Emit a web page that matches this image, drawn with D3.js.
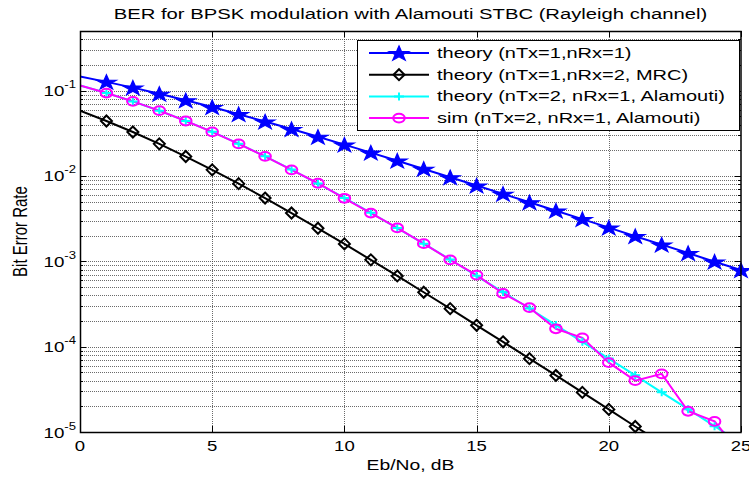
<!DOCTYPE html>
<html>
<head>
<meta charset="utf-8">
<script src="https://cdn.jsdelivr.net/npm/d3@7"></script>
<style>
body { margin: 0; background: #fff; }
text { font-family: "Liberation Sans", Arial, sans-serif; fill: #000; }
</style>
</head>
<body>
<script>
var width = 749;
var height = 477;
var margin = {top: 31, right: 8, bottom: 45, left: 80};
var w = width - margin.left - margin.right;
var h = height - margin.top - margin.bottom;
var sx = 1.35; // the picture is stretched sideways

// Eb/No in dB
var ebno = [0, 1, 2, 3, 4, 5, 6, 7, 8, 9, 10, 11, 12, 13, 14, 15, 16, 17, 18, 19, 20, 21, 22, 23, 24, 25];

var theory11 = [0.1464, 0.1267, 0.1085, 0.0919, 0.0771, 0.0642, 0.0530, 0.0435, 0.0355, 0.0288,
	0.0233, 0.0188, 0.0151, 0.0121, 0.00967, 0.00772, 0.00617, 0.00492, 0.00392, 0.00312,
	0.00248, 0.00197, 0.00157, 0.00125, 0.00099, 0.00079];

var theoryMrc = [0.0581, 0.0441, 0.0328, 0.0238, 0.0169, 0.0118, 0.00813, 0.00551, 0.00368, 0.00244,
	0.00160, 0.00104, 6.74e-4, 4.34e-4, 2.79e-4, 1.78e-4, 1.14e-4, 7.24e-5, 4.60e-5, 2.91e-5,
	1.84e-5, 1.16e-5, 7.4e-6, 4.7e-6, 2.9e-6, 1.9e-6];

var theoryAlamouti = [0.1151, 0.0939, 0.0748, 0.0582, 0.0442, 0.0329, 0.0239, 0.0170, 0.0119, 0.00816,
	0.00553, 0.00370, 0.00245, 0.00161, 0.00105, 6.77e-4, 4.36e-4, 2.80e-4, 1.79e-4, 1.14e-4,
	7.26e-5, 4.61e-5, 2.92e-5, 1.85e-5, 1.17e-5, 7.4e-6];

var simAlamouti = [0.1148, 0.0937, 0.0749, 0.0583, 0.0441, 0.0329, 0.0238, 0.0170, 0.0118, 0.00822,
	0.00548, 0.00368, 0.00246, 0.00161, 0.00104, 6.9e-4, 4.2e-4, 2.86e-4, 1.62e-4, 1.27e-4,
	6.5e-5, 4.0e-5, 4.8e-5, 1.75e-5, 1.33e-5, 5.5e-6];

var xTicks = [0, 5, 10, 15, 20, 25];
var yDecades = [-5, -4, -3, -2, -1];

var legendLabels = ["theory (nTx=1,nRx=1)", "theory (nTx=1,nRx=2, MRC)",
	"theory (nTx=2, nRx=1, Alamouti)", "sim (nTx=2, nRx=1, Alamouti)"];

var series = [
	{name: legendLabels[0], values: theory11, color: "#0000ff", marker: "star"},
	{name: legendLabels[1], values: theoryMrc, color: "#000000", marker: "diamond"},
	{name: legendLabels[2], values: theoryAlamouti, color: "#00ffff", marker: "plus"},
	{name: legendLabels[3], values: simAlamouti, color: "#ff00ff", marker: "circle"}
];

var svg = d3.select("body").append("svg")
	.attr("width", width)
	.attr("height", height)
	.append("g")
	.attr("transform", "translate(" + margin.left + "," + margin.top + ")");

var x = d3.scaleLinear()
	.domain([0, 25])
	.range([0, w]);

var y = d3.scaleLog()
	.domain([1e-5, 0.5])
	.range([h, 0]);

svg.append("defs").append("clipPath")
	.attr("id", "clip")
	.append("rect")
	.attr("width", w)
	.attr("height", h);

//grid lines, dotted like matlab
var yMinor = y.ticks().filter(function(d) { return d > 1e-5 * 1.01 && d < 0.5; });

svg.append("g").selectAll("line.ygrid")
	.data(yMinor)
	.enter().append("line")
	.attr("x1", 0).attr("x2", w)
	.attr("y1", function(d) { return Math.round(y(d)) + 0.5; })
	.attr("y2", function(d) { return Math.round(y(d)) + 0.5; })
	.style("stroke", "#3a3a3a")
	.style("stroke-width", 1)
	.style("stroke-dasharray", "1,1")
	.style("opacity", 0.75);

svg.append("g").selectAll("line.xgrid")
	.data(xTicks.filter(function(d) { return d > 0 && d < 25; }))
	.enter().append("line")
	.attr("y1", 0).attr("y2", h)
	.attr("x1", function(d) { return Math.round(x(d)) + 0.5; })
	.attr("x2", function(d) { return Math.round(x(d)) + 0.5; })
	.style("stroke", "#3a3a3a")
	.style("stroke-width", 1)
	.style("stroke-dasharray", "1,1")
	.style("opacity", 0.75);

//inward ticks on all four sides
var ticks = svg.append("g").style("stroke", "#000").style("stroke-width", 1);
xTicks.forEach(function(d) {
	var xx = Math.round(x(d)) + 0.5;
	ticks.append("line").attr("x1", xx).attr("x2", xx).attr("y1", h).attr("y2", h - 6);
	ticks.append("line").attr("x1", xx).attr("x2", xx).attr("y1", 0).attr("y2", 6);
});
y.ticks().forEach(function(d) {
	var yy = Math.round(y(d)) + 0.5;
	var e = Math.log10(d);
	var len = Math.abs(e - Math.round(e)) < 1e-6 ? 6 : 3;
	ticks.append("line").attr("x1", 0).attr("x2", len).attr("y1", yy).attr("y2", yy);
	ticks.append("line").attr("x1", w).attr("x2", w - len).attr("y1", yy).attr("y2", yy);
});

//series lines
var line = d3.line()
	.x(function(d, i) { return x(ebno[i]); })
	.y(function(d) { return y(d); });

var plot = svg.append("g").attr("clip-path", "url(#clip)");

function drawMarker(g, type, color) {
	if (type == "star") {
		g.append("path")
			.attr("d", d3.symbol(d3.symbolStar).size(68)())
			.attr("transform", "translate(0,0.8) scale(" + sx + ",1)")
			.style("fill", color)
			.style("stroke", color)
			.style("stroke-width", 1);
	} else if (type == "diamond") {
		g.append("path")
			.attr("d", "M0,-5.5L5.5,0L0,5.5L-5.5,0Z")
			.style("fill", "none")
			.style("stroke", color)
			.style("stroke-width", 2);
	} else if (type == "plus") {
		g.append("path")
			.attr("d", "M-5,0H5M0,-4V4")
			.style("fill", "none")
			.style("stroke", color)
			.style("stroke-width", 2);
	} else {
		g.append("ellipse")
			.attr("rx", 5.8)
			.attr("ry", 4.4)
			.style("fill", "none")
			.style("stroke", color)
			.style("stroke-width", 2);
	}
}

series.forEach(function(s) {
	plot.append("path")
		.datum(s.values)
		.attr("d", line)
		.style("fill", "none")
		.style("stroke", s.color)
		.style("stroke-width", 2);

	var pts = s.values.map(function(v, i) { return {x: ebno[i], v: v}; })
		.filter(function(p) { return p.x > 0 && p.v >= 1e-5; });

	svg.append("g").selectAll("g")
		.data(pts)
		.enter().append("g")
		.attr("transform", function(p) { return "translate(" + x(p.x) + "," + y(p.v) + ")"; })
		.each(function() { drawMarker(d3.select(this), s.marker, s.color); });
});

//axes box
svg.append("rect")
	.attr("x", 0.5).attr("y", 0.5)
	.attr("width", w - 0.5).attr("height", h)
	.style("fill", "none")
	.style("stroke", "#000")
	.style("stroke-width", 1.5);

//tick labels
svg.append("g").selectAll("text")
	.data(xTicks)
	.enter().append("text")
	.attr("transform", function(d) { return "translate(" + x(d) + "," + (h + 19) + ") scale(1.28,1)"; })
	.style("text-anchor", "middle")
	.style("font-size", "14.5px")
	.text(function(d) { return d; });

var yl = svg.append("g").selectAll("text")
	.data(yDecades)
	.enter().append("text")
	.attr("transform", function(d) { return "translate(-4," + (y(Math.pow(10, d)) + 5.5) + ") scale(1.25,1)"; })
	.style("text-anchor", "end")
	.style("font-size", "15px");
yl.append("tspan").text("10");
yl.append("tspan")
	.attr("dy", -8)
	.style("font-size", "10.5px")
	.text(function(d) { return d; });

//title and axis labels
svg.append("text")
	.attr("transform", "translate(" + (w / 2) + ",-12) scale(" + sx + ",1)")
	.style("text-anchor", "middle")
	.style("font-size", "15px")
	.text("BER for BPSK modulation with Alamouti STBC (Rayleigh channel)");

svg.append("text")
	.attr("transform", "translate(" + (w / 2) + "," + (h + 38) + ") scale(1.33,1)")
	.style("text-anchor", "middle")
	.style("font-size", "14.5px")
	.text("Eb/No, dB");

svg.append("text")
	.attr("transform", "translate(-53," + (h / 2) + ") scale(" + sx + ",1) rotate(-90)")
	.style("text-anchor", "middle")
	.style("font-size", "15px")
	.text("Bit Error Rate");

//legend
var legend = svg.append("g")
	.attr("transform", "translate(277,9)");

legend.append("rect")
	.attr("x", 0.5).attr("y", 0.5)
	.attr("width", 382).attr("height", 90)
	.style("fill", "#fff")
	.style("stroke", "#000")
	.style("stroke-width", 1);

series.forEach(function(s, i) {
	var row = legend.append("g")
		.attr("transform", "translate(0," + (13 + i * 21.7) + ")");
	row.append("line")
		.attr("x1", 12).attr("x2", 72)
		.style("stroke", s.color)
		.style("stroke-width", 2);
	drawMarker(row.append("g").attr("transform", "translate(42,0)"), s.marker, s.color);
	row.append("text")
		.attr("transform", "translate(80,5) scale(1.4,1)")
		.style("font-size", "14.3px")
		.text(s.name);
});
</script>
</body>
</html>
